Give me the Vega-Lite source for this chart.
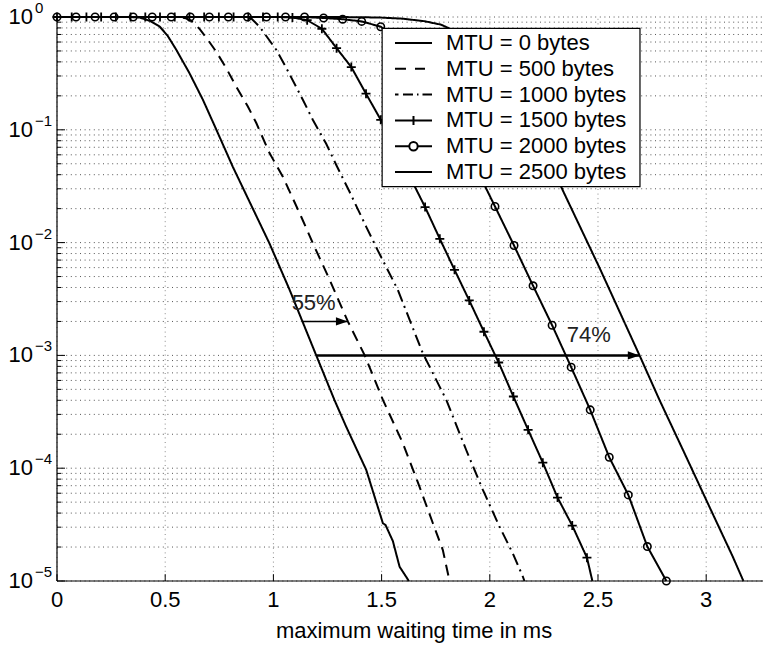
{
  "$schema": "https://vega.github.io/schema/vega-lite/v6.json",
  "width": 706,
  "height": 564,
  "autosize": {"type": "none"},
  "padding": {"left": 57, "top": 17, "right": 1, "bottom": 65},
  "background": "white",
  "config": {"view": {"stroke": null}, "font": "Liberation Sans"},
  "resolve": {"scale": {"y": "independent"}},
  "datasets": {
    "curves": [
      {"s": "MTU = 0 bytes", "x": 0, "y": 1},
      {"s": "MTU = 0 bytes", "x": 0.335, "y": 1},
      {"s": "MTU = 0 bytes", "x": 0.381, "y": 0.99},
      {"s": "MTU = 0 bytes", "x": 0.427, "y": 0.927},
      {"s": "MTU = 0 bytes", "x": 0.474, "y": 0.825},
      {"s": "MTU = 0 bytes", "x": 0.511, "y": 0.683},
      {"s": "MTU = 0 bytes", "x": 0.551, "y": 0.513},
      {"s": "MTU = 0 bytes", "x": 0.612, "y": 0.318},
      {"s": "MTU = 0 bytes", "x": 0.674, "y": 0.185},
      {"s": "MTU = 0 bytes", "x": 0.736, "y": 0.1006},
      {"s": "MTU = 0 bytes", "x": 0.812, "y": 0.0472},
      {"s": "MTU = 0 bytes", "x": 0.982, "y": 0.00982},
      {"s": "MTU = 0 bytes", "x": 1.074, "y": 0.00385},
      {"s": "MTU = 0 bytes", "x": 1.198, "y": 0.001},
      {"s": "MTU = 0 bytes", "x": 1.282, "y": 0.000403},
      {"s": "MTU = 0 bytes", "x": 1.336, "y": 0.000234},
      {"s": "MTU = 0 bytes", "x": 1.429, "y": 0.0000966},
      {"s": "MTU = 0 bytes", "x": 1.482, "y": 0.0000456},
      {"s": "MTU = 0 bytes", "x": 1.506, "y": 0.0000325},
      {"s": "MTU = 0 bytes", "x": 1.518, "y": 0.0000314},
      {"s": "MTU = 0 bytes", "x": 1.552, "y": 0.0000226},
      {"s": "MTU = 0 bytes", "x": 1.583, "y": 0.0000134},
      {"s": "MTU = 0 bytes", "x": 1.626, "y": 0.00001},

      {"s": "MTU = 500 bytes", "x": 0, "y": 1},
      {"s": "MTU = 500 bytes", "x": 0.566, "y": 1},
      {"s": "MTU = 500 bytes", "x": 0.594, "y": 0.976},
      {"s": "MTU = 500 bytes", "x": 0.62, "y": 0.927},
      {"s": "MTU = 500 bytes", "x": 0.658, "y": 0.788},
      {"s": "MTU = 500 bytes", "x": 0.697, "y": 0.629},
      {"s": "MTU = 500 bytes", "x": 0.736, "y": 0.492},
      {"s": "MTU = 500 bytes", "x": 0.782, "y": 0.352},
      {"s": "MTU = 500 bytes", "x": 0.828, "y": 0.242},
      {"s": "MTU = 500 bytes", "x": 0.882, "y": 0.161},
      {"s": "MTU = 500 bytes", "x": 0.921, "y": 0.1148},
      {"s": "MTU = 500 bytes", "x": 0.982, "y": 0.0622},
      {"s": "MTU = 500 bytes", "x": 1.043, "y": 0.0386},
      {"s": "MTU = 500 bytes", "x": 1.128, "y": 0.01704},
      {"s": "MTU = 500 bytes", "x": 1.182, "y": 0.0099},
      {"s": "MTU = 500 bytes", "x": 1.26, "y": 0.00468},
      {"s": "MTU = 500 bytes", "x": 1.344, "y": 0.002},
      {"s": "MTU = 500 bytes", "x": 1.422, "y": 0.001},
      {"s": "MTU = 500 bytes", "x": 1.506, "y": 0.000403},
      {"s": "MTU = 500 bytes", "x": 1.598, "y": 0.000167},
      {"s": "MTU = 500 bytes", "x": 1.675, "y": 0.0000687},
      {"s": "MTU = 500 bytes", "x": 1.737, "y": 0.0000325},
      {"s": "MTU = 500 bytes", "x": 1.783, "y": 0.0000188},
      {"s": "MTU = 500 bytes", "x": 1.814, "y": 0.00001},

      {"s": "MTU = 1000 bytes", "x": 0, "y": 1},
      {"s": "MTU = 1000 bytes", "x": 0.866, "y": 1},
      {"s": "MTU = 1000 bytes", "x": 0.899, "y": 0.966},
      {"s": "MTU = 1000 bytes", "x": 0.936, "y": 0.82},
      {"s": "MTU = 1000 bytes", "x": 0.973, "y": 0.655},
      {"s": "MTU = 1000 bytes", "x": 1.013, "y": 0.513},
      {"s": "MTU = 1000 bytes", "x": 1.059, "y": 0.355},
      {"s": "MTU = 1000 bytes", "x": 1.136, "y": 0.1847},
      {"s": "MTU = 1000 bytes", "x": 1.182, "y": 0.1228},
      {"s": "MTU = 1000 bytes", "x": 1.244, "y": 0.0752},
      {"s": "MTU = 1000 bytes", "x": 1.29, "y": 0.049},
      {"s": "MTU = 1000 bytes", "x": 1.352, "y": 0.0282},
      {"s": "MTU = 1000 bytes", "x": 1.429, "y": 0.0138},
      {"s": "MTU = 1000 bytes", "x": 1.481, "y": 0.00863},
      {"s": "MTU = 1000 bytes", "x": 1.575, "y": 0.00381},
      {"s": "MTU = 1000 bytes", "x": 1.69, "y": 0.00105},
      {"s": "MTU = 1000 bytes", "x": 1.799, "y": 0.000403},
      {"s": "MTU = 1000 bytes", "x": 1.891, "y": 0.000145},
      {"s": "MTU = 1000 bytes", "x": 1.968, "y": 0.0000642},
      {"s": "MTU = 1000 bytes", "x": 2.045, "y": 0.0000303},
      {"s": "MTU = 1000 bytes", "x": 2.106, "y": 0.0000176},
      {"s": "MTU = 1000 bytes", "x": 2.153, "y": 0.0000109},
      {"s": "MTU = 1000 bytes", "x": 2.16, "y": 0.00001},

      {"s": "MTU = 1500 bytes", "x": 0, "y": 1},
      {"s": "MTU = 1500 bytes", "x": 0.068, "y": 1},
      {"s": "MTU = 1500 bytes", "x": 0.136, "y": 1},
      {"s": "MTU = 1500 bytes", "x": 0.204, "y": 1},
      {"s": "MTU = 1500 bytes", "x": 0.272, "y": 1},
      {"s": "MTU = 1500 bytes", "x": 0.34, "y": 1},
      {"s": "MTU = 1500 bytes", "x": 0.408, "y": 1},
      {"s": "MTU = 1500 bytes", "x": 0.476, "y": 1},
      {"s": "MTU = 1500 bytes", "x": 0.544, "y": 1},
      {"s": "MTU = 1500 bytes", "x": 0.612, "y": 1},
      {"s": "MTU = 1500 bytes", "x": 0.68, "y": 1},
      {"s": "MTU = 1500 bytes", "x": 0.748, "y": 1},
      {"s": "MTU = 1500 bytes", "x": 0.816, "y": 1},
      {"s": "MTU = 1500 bytes", "x": 0.884, "y": 1},
      {"s": "MTU = 1500 bytes", "x": 0.952, "y": 1},
      {"s": "MTU = 1500 bytes", "x": 1.02, "y": 1},
      {"s": "MTU = 1500 bytes", "x": 1.088, "y": 0.99},
      {"s": "MTU = 1500 bytes", "x": 1.156, "y": 0.937},
      {"s": "MTU = 1500 bytes", "x": 1.224, "y": 0.787},
      {"s": "MTU = 1500 bytes", "x": 1.292, "y": 0.529},
      {"s": "MTU = 1500 bytes", "x": 1.36, "y": 0.36},
      {"s": "MTU = 1500 bytes", "x": 1.428, "y": 0.209},
      {"s": "MTU = 1500 bytes", "x": 1.496, "y": 0.1227},
      {"s": "MTU = 1500 bytes", "x": 1.564, "y": 0.0686},
      {"s": "MTU = 1500 bytes", "x": 1.632, "y": 0.0379},
      {"s": "MTU = 1500 bytes", "x": 1.701, "y": 0.02064},
      {"s": "MTU = 1500 bytes", "x": 1.769, "y": 0.01081},
      {"s": "MTU = 1500 bytes", "x": 1.837, "y": 0.00574},
      {"s": "MTU = 1500 bytes", "x": 1.905, "y": 0.00307},
      {"s": "MTU = 1500 bytes", "x": 1.973, "y": 0.00162},
      {"s": "MTU = 1500 bytes", "x": 2.041, "y": 0.000865},
      {"s": "MTU = 1500 bytes", "x": 2.109, "y": 0.000432},
      {"s": "MTU = 1500 bytes", "x": 2.177, "y": 0.000219},
      {"s": "MTU = 1500 bytes", "x": 2.245, "y": 0.000112},
      {"s": "MTU = 1500 bytes", "x": 2.313, "y": 0.0000549},
      {"s": "MTU = 1500 bytes", "x": 2.381, "y": 0.000031},
      {"s": "MTU = 1500 bytes", "x": 2.449, "y": 0.0000161},
      {"s": "MTU = 1500 bytes", "x": 2.474, "y": 0.00001},

      {"s": "MTU = 2000 bytes", "x": 0, "y": 1},
      {"s": "MTU = 2000 bytes", "x": 0.088, "y": 1},
      {"s": "MTU = 2000 bytes", "x": 0.176, "y": 1},
      {"s": "MTU = 2000 bytes", "x": 0.264, "y": 1},
      {"s": "MTU = 2000 bytes", "x": 0.352, "y": 1},
      {"s": "MTU = 2000 bytes", "x": 0.44, "y": 1},
      {"s": "MTU = 2000 bytes", "x": 0.528, "y": 1},
      {"s": "MTU = 2000 bytes", "x": 0.616, "y": 1},
      {"s": "MTU = 2000 bytes", "x": 0.704, "y": 1},
      {"s": "MTU = 2000 bytes", "x": 0.792, "y": 1},
      {"s": "MTU = 2000 bytes", "x": 0.88, "y": 1},
      {"s": "MTU = 2000 bytes", "x": 0.968, "y": 1},
      {"s": "MTU = 2000 bytes", "x": 1.056, "y": 1},
      {"s": "MTU = 2000 bytes", "x": 1.144, "y": 1},
      {"s": "MTU = 2000 bytes", "x": 1.232, "y": 0.98},
      {"s": "MTU = 2000 bytes", "x": 1.32, "y": 0.956},
      {"s": "MTU = 2000 bytes", "x": 1.408, "y": 0.914},
      {"s": "MTU = 2000 bytes", "x": 1.496, "y": 0.82},
      {"s": "MTU = 2000 bytes", "x": 1.584, "y": 0.629},
      {"s": "MTU = 2000 bytes", "x": 1.672, "y": 0.393},
      {"s": "MTU = 2000 bytes", "x": 1.76, "y": 0.209},
      {"s": "MTU = 2000 bytes", "x": 1.848, "y": 0.1},
      {"s": "MTU = 2000 bytes", "x": 1.936, "y": 0.0461},
      {"s": "MTU = 2000 bytes", "x": 2.024, "y": 0.0209},
      {"s": "MTU = 2000 bytes", "x": 2.112, "y": 0.00942},
      {"s": "MTU = 2000 bytes", "x": 2.2, "y": 0.00414},
      {"s": "MTU = 2000 bytes", "x": 2.288, "y": 0.00185},
      {"s": "MTU = 2000 bytes", "x": 2.376, "y": 0.000787},
      {"s": "MTU = 2000 bytes", "x": 2.464, "y": 0.000329},
      {"s": "MTU = 2000 bytes", "x": 2.552, "y": 0.000125},
      {"s": "MTU = 2000 bytes", "x": 2.64, "y": 0.000058},
      {"s": "MTU = 2000 bytes", "x": 2.728, "y": 0.0000202},
      {"s": "MTU = 2000 bytes", "x": 2.816, "y": 0.00001},

      {"s": "MTU = 2500 bytes", "x": 0, "y": 1},
      {"s": "MTU = 2500 bytes", "x": 1.3, "y": 1},
      {"s": "MTU = 2500 bytes", "x": 1.49, "y": 0.99},
      {"s": "MTU = 2500 bytes", "x": 1.597, "y": 0.966},
      {"s": "MTU = 2500 bytes", "x": 1.698, "y": 0.918},
      {"s": "MTU = 2500 bytes", "x": 1.775, "y": 0.855},
      {"s": "MTU = 2500 bytes", "x": 1.86, "y": 0.718},
      {"s": "MTU = 2500 bytes", "x": 1.953, "y": 0.545},
      {"s": "MTU = 2500 bytes", "x": 2.045, "y": 0.355},
      {"s": "MTU = 2500 bytes", "x": 2.138, "y": 0.1847},
      {"s": "MTU = 2500 bytes", "x": 2.23, "y": 0.0816},
      {"s": "MTU = 2500 bytes", "x": 2.336, "y": 0.0294},
      {"s": "MTU = 2500 bytes", "x": 2.507, "y": 0.00598},
      {"s": "MTU = 2500 bytes", "x": 2.692, "y": 0.001},
      {"s": "MTU = 2500 bytes", "x": 2.784, "y": 0.000403},
      {"s": "MTU = 2500 bytes", "x": 2.895, "y": 0.000142},
      {"s": "MTU = 2500 bytes", "x": 3.007, "y": 0.000049},
      {"s": "MTU = 2500 bytes", "x": 3.123, "y": 0.0000164},
      {"s": "MTU = 2500 bytes", "x": 3.172, "y": 0.00001}
    ],
    "arrows": [
      {"a": "55%", "x": 1.135, "y": 0.002},
      {"a": "55%", "x": 1.343, "y": 0.002},
      {"a": "74%", "x": 1.2, "y": 0.001},
      {"a": "74%", "x": 2.692, "y": 0.001}
    ],
    "notes": [
      {"a": "55%", "x": 1.186, "y": 0.0029},
      {"a": "74%", "x": 2.457, "y": 0.00152}
    ],
    "ylab": [
      {"v": 1, "e": "0"},
      {"v": 0.1, "e": "−1"},
      {"v": 0.01, "e": "−2"},
      {"v": 0.001, "e": "−3"},
      {"v": 0.0001, "e": "−4"},
      {"v": 0.00001, "e": "−5"}
    ],
    "yminor": [
      {"v": 0.00002}, {"v": 0.00003}, {"v": 0.00004}, {"v": 0.00005}, {"v": 0.00006}, {"v": 0.00007}, {"v": 0.00008}, {"v": 0.00009},
      {"v": 0.0002}, {"v": 0.0003}, {"v": 0.0004}, {"v": 0.0005}, {"v": 0.0006}, {"v": 0.0007}, {"v": 0.0008}, {"v": 0.0009},
      {"v": 0.002}, {"v": 0.003}, {"v": 0.004}, {"v": 0.005}, {"v": 0.006}, {"v": 0.007}, {"v": 0.008}, {"v": 0.009},
      {"v": 0.02}, {"v": 0.03}, {"v": 0.04}, {"v": 0.05}, {"v": 0.06}, {"v": 0.07}, {"v": 0.08}, {"v": 0.09},
      {"v": 0.2}, {"v": 0.3}, {"v": 0.4}, {"v": 0.5}, {"v": 0.6}, {"v": 0.7}, {"v": 0.8}, {"v": 0.9}
    ],
    "xlab": [
      {"v": 0, "t": "0"},
      {"v": 0.5, "t": "0.5"},
      {"v": 1, "t": "1"},
      {"v": 1.5, "t": "1.5"},
      {"v": 2, "t": "2"},
      {"v": 2.5, "t": "2.5"},
      {"v": 3, "t": "3"}
    ],
    "series": [
      {"s": "MTU = 0 bytes"},
      {"s": "MTU = 500 bytes"},
      {"s": "MTU = 1000 bytes"},
      {"s": "MTU = 1500 bytes"},
      {"s": "MTU = 2000 bytes"},
      {"s": "MTU = 2500 bytes"}
    ]
  },
  "layer": [
    {
      "layer": [
        {
          "data": {"name": "xlab"},
          "mark": {"type": "rule", "strokeDash": [1, 3.6], "color": "#8a8a8a", "strokeWidth": 1},
          "encoding": {
            "x": {"field": "v", "type": "quantitative", "axis": null},
            "y": {"datum": 0.00001, "type": "quantitative", "axis": null},
            "y2": {"datum": 1}
          }
        },
        {
          "data": {"name": "yminor"},
          "mark": {"type": "rule", "strokeDash": [1, 3.6], "color": "#555", "strokeWidth": 1},
          "encoding": {
            "x": {"datum": 0, "type": "quantitative", "axis": null},
            "x2": {"datum": 3.2625},
            "y": {"field": "v", "type": "quantitative", "axis": null}
          }
        },
        {
          "data": {"name": "ylab"},
          "mark": {"type": "rule", "strokeDash": [1, 3.6], "color": "#555", "strokeWidth": 1},
          "encoding": {
            "x": {"datum": 0, "type": "quantitative", "axis": null},
            "x2": {"datum": 3.2625},
            "y": {"field": "v", "type": "quantitative", "axis": null}
          }
        },
        {
          "data": {"name": "curves"},
          "mark": {"type": "line", "strokeWidth": 2, "color": "black"},
          "encoding": {
            "x": {
              "field": "x", "type": "quantitative",
              "scale": {"domain": [0, 3.2625], "nice": false, "zero": false},
              "axis": null
            },
            "y": {
              "field": "y", "type": "quantitative",
              "scale": {"type": "log", "domain": [0.00001, 1], "nice": false},
              "axis": null
            },
            "detail": {"field": "s"},
            "strokeDash": {
              "field": "s", "type": "nominal",
              "scale": {
                "domain": ["MTU = 0 bytes", "MTU = 500 bytes", "MTU = 1000 bytes", "MTU = 1500 bytes", "MTU = 2000 bytes", "MTU = 2500 bytes"],
                "range": [[1, 0], [11, 7], [12, 5, 2, 5], [1, 0], [1, 0], [1, 0]]
              },
              "legend": null
            }
          }
        },
        {
          "data": {"name": "curves"},
          "transform": [{"filter": "datum.s == 'MTU = 1500 bytes' && datum.y > 0.000012"}],
          "mark": {"type": "point", "shape": "M-1,0H1M0,-1V1", "size": 81, "strokeWidth": 1.8, "color": "black", "filled": false, "opacity": 1},
          "encoding": {
            "x": {"field": "x", "type": "quantitative", "axis": null},
            "y": {"field": "y", "type": "quantitative", "axis": null}
          }
        },
        {
          "data": {"name": "curves"},
          "transform": [{"filter": "datum.s == 'MTU = 2000 bytes'"}],
          "mark": {"type": "point", "shape": "circle", "size": 55, "strokeWidth": 1.6, "color": "black", "filled": false, "opacity": 1},
          "encoding": {
            "x": {"field": "x", "type": "quantitative", "axis": null},
            "y": {"field": "y", "type": "quantitative", "axis": null}
          }
        },
        {
          "data": {"name": "arrows"},
          "transform": [{"filter": "datum.a == '55%'"}],
          "mark": {"type": "line", "strokeWidth": 1.5, "color": "black"},
          "encoding": {
            "x": {"field": "x", "type": "quantitative", "axis": null},
            "y": {"field": "y", "type": "quantitative", "axis": null}
          }
        },
        {
          "data": {"name": "arrows"},
          "transform": [{"filter": "datum.a == '74%'"}],
          "mark": {"type": "line", "strokeWidth": 2.5, "color": "black"},
          "encoding": {
            "x": {"field": "x", "type": "quantitative", "axis": null},
            "y": {"field": "y", "type": "quantitative", "axis": null}
          }
        },
        {
          "data": {"name": "arrows"},
          "transform": [{"aggregate": [{"op": "max", "field": "x", "as": "xe"}], "groupby": ["a", "y"]}],
          "mark": {"type": "point", "shape": "M0,0L-2,-0.7L-2,0.7Z", "size": 137, "filled": true, "color": "black", "opacity": 1, "strokeWidth": 0},
          "encoding": {
            "x": {"field": "xe", "type": "quantitative", "axis": null},
            "y": {"field": "y", "type": "quantitative", "axis": null}
          }
        },
        {
          "data": {"name": "notes"},
          "mark": {"type": "text", "fontSize": 22, "color": "#222", "align": "center", "baseline": "middle"},
          "encoding": {
            "x": {"field": "x", "type": "quantitative", "axis": null},
            "y": {"field": "y", "type": "quantitative", "axis": null},
            "text": {"field": "a"}
          }
        },
        {
          "data": {"name": "ylab"},
          "mark": {"type": "rule", "color": "black", "strokeWidth": 1},
          "encoding": {
            "x": {"datum": 0, "type": "quantitative", "axis": null},
            "x2": {"datum": 0.037},
            "y": {"field": "v", "type": "quantitative", "axis": null}
          }
        },
        {
          "data": {"name": "yminor"},
          "mark": {"type": "rule", "color": "black", "strokeWidth": 1},
          "encoding": {
            "x": {"datum": 0, "type": "quantitative", "axis": null},
            "x2": {"datum": 0.019},
            "y": {"field": "v", "type": "quantitative", "axis": null}
          }
        },
        {
          "data": {"name": "xlab"},
          "mark": {"type": "rule", "color": "black", "strokeWidth": 1},
          "encoding": {
            "x": {"field": "v", "type": "quantitative", "axis": null},
            "y": {"datum": 0.00001, "type": "quantitative", "axis": null},
            "y2": {"datum": 0.0000115}
          }
        },
        {
          "data": {"values": [{"axis": "bottom"}]},
          "mark": {"type": "rule", "color": "black", "strokeWidth": 1.2},
          "encoding": {
            "x": {"datum": 0, "type": "quantitative", "axis": null},
            "x2": {"datum": 3.2625},
            "y": {"datum": 0.00001, "type": "quantitative", "axis": null}
          }
        },
        {
          "data": {"values": [{"axis": "left"}]},
          "mark": {"type": "rule", "color": "black", "strokeWidth": 1.2},
          "encoding": {
            "x": {"datum": 0, "type": "quantitative", "axis": null},
            "y": {"datum": 0.00001, "type": "quantitative", "axis": null},
            "y2": {"datum": 1}
          }
        },
        {
          "data": {"name": "ylab"},
          "mark": {"type": "text", "text": "10", "fontSize": 22, "color": "black", "align": "right", "baseline": "middle", "dx": -24},
          "encoding": {
            "x": {"datum": 0, "type": "quantitative", "axis": null},
            "y": {"field": "v", "type": "quantitative", "axis": null}
          }
        },
        {
          "data": {"name": "ylab"},
          "mark": {"type": "text", "fontSize": 15, "color": "black", "align": "left", "baseline": "middle", "dx": -22, "dy": -9},
          "encoding": {
            "x": {"datum": 0, "type": "quantitative", "axis": null},
            "y": {"field": "v", "type": "quantitative", "axis": null},
            "text": {"field": "e"}
          }
        },
        {
          "data": {"name": "xlab"},
          "mark": {"type": "text", "fontSize": 22, "color": "black", "align": "center", "baseline": "middle", "dy": 19},
          "encoding": {
            "x": {"field": "v", "type": "quantitative", "axis": null},
            "y": {"datum": 0.00001, "type": "quantitative", "axis": null},
            "text": {"field": "t"}
          }
        },
        {
          "data": {"values": [{"title": "maximum waiting time in ms"}]},
          "mark": {"type": "text", "fontSize": 22, "color": "black", "align": "center", "baseline": "alphabetic", "dy": 57},
          "encoding": {
            "x": {"datum": 1.65, "type": "quantitative", "axis": null},
            "y": {"datum": 0.00001, "type": "quantitative", "axis": null},
            "text": {"field": "title"}
          }
        },
        {
          "data": {"values": [{"box": "legend"}]},
          "mark": {"type": "rect", "fill": "white", "stroke": "black", "strokeWidth": 1.2, "opacity": 1},
          "encoding": {
            "x": {"datum": 1.5025, "type": "quantitative", "axis": null},
            "x2": {"datum": 2.694},
            "y": {"datum": 0.794, "type": "quantitative", "axis": null},
            "y2": {"datum": 0.0313}
          }
        }
      ]
    },
    {
      "data": {"name": "series"},
      "layer": [
        {
          "mark": {"type": "point", "size": 400, "strokeWidth": 2, "color": "black", "filled": false, "opacity": 1},
          "encoding": {
            "x": {"datum": 1.6474, "type": "quantitative", "axis": null},
            "y": {
              "field": "s", "type": "ordinal", "axis": null,
              "scale": {
                "type": "point", "padding": 0, "range": [26, 155],
                "domain": ["MTU = 0 bytes", "MTU = 500 bytes", "MTU = 1000 bytes", "MTU = 1500 bytes", "MTU = 2000 bytes", "MTU = 2500 bytes"]
              }
            },
            "shape": {
              "field": "s", "type": "nominal", "legend": null,
              "scale": {
                "domain": ["MTU = 0 bytes", "MTU = 500 bytes", "MTU = 1000 bytes", "MTU = 1500 bytes", "MTU = 2000 bytes", "MTU = 2500 bytes"],
                "range": [
                  "M-1.85,0H1.85",
                  "M-1.85,0H-0.75M0.15,0H1.15",
                  "M-1.85,0H-1.5M-1.05,0H-0.05M0.35,0H0.5M0.9,0H1.85",
                  "M-1.85,0H1.85M0,-0.45V0.45",
                  "M-1.85,0H-0.42M0.42,0H1.85M0.42,0A0.42,0.42 0 1,1 -0.42,0A0.42,0.42 0 1,1 0.42,0",
                  "M-1.85,0H1.85"
                ]
              }
            }
          }
        },
        {
          "mark": {"type": "text", "fontSize": 22, "color": "black", "align": "left", "baseline": "middle"},
          "encoding": {
            "x": {"datum": 1.7976, "type": "quantitative", "axis": null},
            "y": {"field": "s", "type": "ordinal", "axis": null},
            "text": {"field": "s"}
          }
        }
      ]
    }
  ]
}
